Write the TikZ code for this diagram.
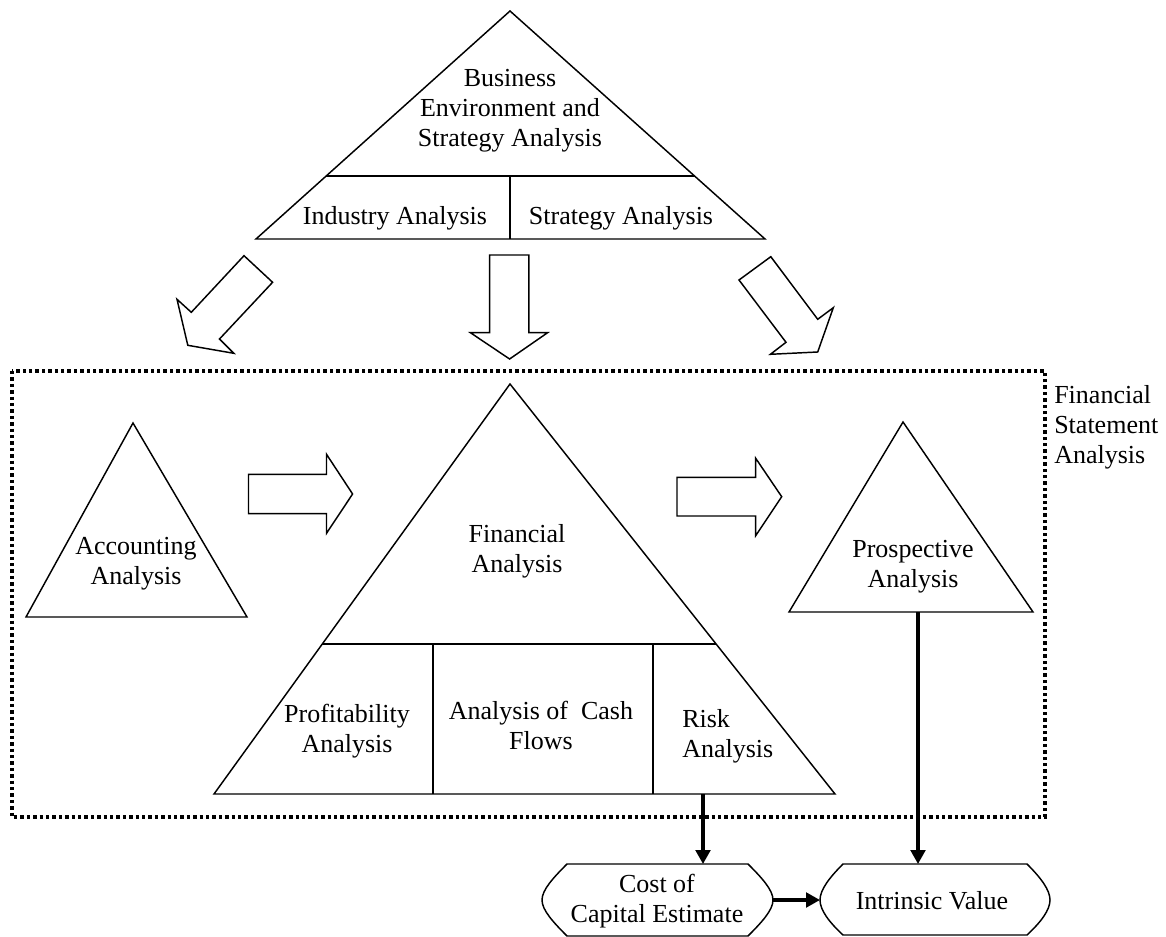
\documentclass[tikz,border=0pt]{standalone}
\usepackage{fontspec}
\setmainfont{Liberation Serif}
\usetikzlibrary{arrows.meta,calc}
\begin{document}
\begin{tikzpicture}[x=0.75pt,y=-0.75pt,
  shapeline/.style={draw=black,line width=1.1pt,line join=miter},
  blockarrow/.style={draw=black,line width=1.1pt,fill=white,line join=miter},
  flow/.style={draw=black,line width=2.4pt,-{Triangle[length=10.5pt,width=11pt]}},
  lbl/.style={font=\fontsize{19.5}{22.5}\selectfont,align=center,inner sep=0pt},
  framebox/.style={draw=black,line width=2.7pt,dash pattern=on 2.5pt off 2.3pt}]
\useasboundingbox (0,0) rectangle (1166,937);

% ---------- top triangle ----------
\coordinate (tA) at (510,11);
\coordinate (tL) at (256,239);
\coordinate (tR) at (765,239);
\coordinate (tDL) at ($(tL)!0.276!(tA)$);
\coordinate (tDR) at ($(tR)!0.276!(tA)$);
\coordinate (tVt) at (510,176);
\coordinate (tVb) at (510,239);
\draw[shapeline] (tA) -- (tL) -- (tR) -- cycle;
\draw[shapeline] (tDL) -- (tDR);
\draw[shapeline] (tVt) -- (tVb);
\node[lbl] (bes) at (510,111) {Business\\Environment and\\Strategy Analysis};
\node[lbl] (ind) at (395,218) {Industry Analysis};
\node[lbl] (stra) at (621,218) {Strategy Analysis};

% ---------- block arrows from top ----------
\draw[blockarrow] (244,255.7) -- (272.6,282.3) -- (219.5,339) -- (233.8,353.3)
  -- (187.8,345.3) -- (177,299.3) -- (191.3,312.3) -- cycle;
\draw[blockarrow] (489.6,255) -- (528.8,255) -- (528.8,332.7) -- (547.6,332.7)
  -- (509.6,359) -- (470.4,332.7) -- (489.6,332.7) -- cycle;
\draw[blockarrow] (770.8,256.7) -- (739,280) -- (786,342.3) -- (770.4,354.3)
  -- (817.7,352) -- (833.3,307.7) -- (817.7,319.3) -- cycle;

% ---------- dotted frame ----------
\draw[framebox] (12,371) rectangle (1045,817);
\node[lbl,align=left,anchor=north west] (fsa) at (1054,385) {Financial\\Statement\\Analysis};

% ---------- accounting triangle ----------
\coordinate (aA) at (133,423);
\coordinate (aL) at (26,617);
\coordinate (aR) at (247,617);
\draw[shapeline] (aA) -- (aL) -- (aR) -- cycle;
\node[lbl] (acc) at (136,564) {Accounting\\Analysis};

% ---------- small block arrows ----------
\draw[blockarrow] (248.5,474.3) -- (326.5,474.3) -- (326.5,454.3) -- (352.6,494)
  -- (326.5,533.3) -- (326.5,513.7) -- (248.5,513.7) -- cycle;
\draw[blockarrow] (677,477.3) -- (755.7,477.3) -- (755.7,458.3) -- (781.7,496.7)
  -- (755.7,535.7) -- (755.7,516) -- (677,516) -- cycle;

% ---------- financial analysis triangle ----------
\coordinate (cA) at (510,384);
\coordinate (cL) at (214,794);
\coordinate (cR) at (835,794);
\coordinate (cDL) at ($(cL)!0.366!(cA)$);
\coordinate (cDR) at ($(cR)!0.366!(cA)$);
\coordinate (cV1t) at (433,644);
\coordinate (cV1b) at (433,794);
\coordinate (cV2t) at (653,644);
\coordinate (cV2b) at (653,794);
\draw[shapeline] (cA) -- (cL) -- (cR) -- cycle;
\draw[shapeline] (cDL) -- (cDR);
\draw[shapeline] (cV1t) -- (cV1b);
\draw[shapeline] (cV2t) -- (cV2b);
\node[lbl] (fin) at (517,551) {Financial\\Analysis};
\node[lbl] (prof) at (347,731) {Profitability\\Analysis};
\node[lbl] (cash) at (541,725) {Analysis of~ Cash\\Flows};
\node[lbl,align=left,anchor=north west] (risk) at (682,709) {Risk\\Analysis};

% ---------- prospective triangle ----------
\coordinate (pA) at (903,422);
\coordinate (pL) at (789,612);
\coordinate (pR) at (1033,612);
\draw[shapeline] (pA) -- (pL) -- (pR) -- cycle;
\node[lbl] (prosp) at (913,567) {Prospective\\Analysis};

% ---------- bottom hexagons ----------
\draw[shapeline] (567,864) -- (748,864) .. controls (762,878) and (773,890) .. (773,900)
  .. controls (773,910) and (762,922) .. (748,936) -- (567,936)
  .. controls (553,922) and (542,910) .. (542,900)
  .. controls (542,890) and (553,878) .. cycle;
\node[lbl] (coc) at (657,901) {Cost of\\Capital Estimate};

\draw[shapeline] (843,864) -- (1027,864) .. controls (1041,878) and (1050,890) .. (1050,900)
  .. controls (1050,910) and (1041,922) .. (1027,935) -- (843,935)
  .. controls (829,922) and (820,910) .. (820,900)
  .. controls (820,890) and (829,878) .. cycle;
\node[lbl,anchor=base] (iv) at (932,909) {Intrinsic Value};

% ---------- flow connectors ----------
\coordinate (riskOut) at (703,794);
\coordinate (cocIn) at (703,864);
\coordinate (prospOut) at (918,612);
\coordinate (ivIn) at (918,864);
\coordinate (cocOut) at (773,900);
\coordinate (ivLeft) at (820,900);
\draw[flow] (riskOut) -- (cocIn);
\draw[flow] (prospOut) -- (ivIn);
\draw[flow] (cocOut) -- (ivLeft);
\end{tikzpicture}
\end{document}
